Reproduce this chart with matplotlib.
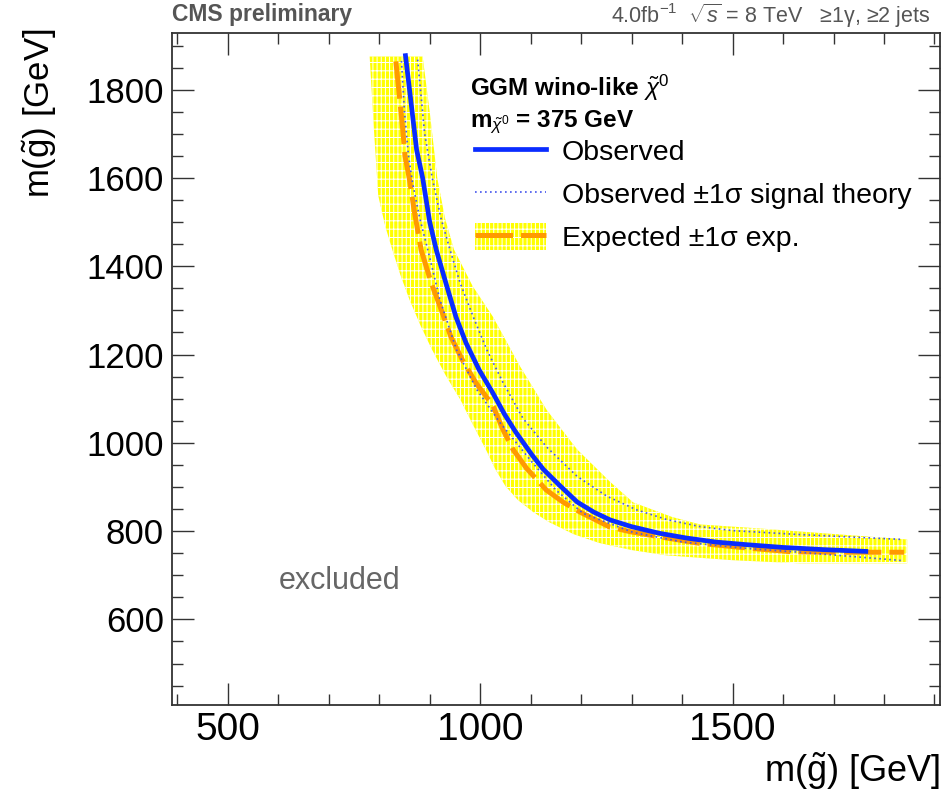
import numpy as np
import matplotlib
matplotlib.use('Agg')
import matplotlib.pyplot as plt
from matplotlib.patches import Patch
from matplotlib.lines import Line2D

plt.rcParams['font.family'] = ['Liberation Sans', 'DejaVu Sans']
plt.rcParams['mathtext.fontset'] = 'custom'
plt.rcParams['mathtext.rm'] = 'Liberation Sans'
plt.rcParams['mathtext.it'] = 'Liberation Sans:italic'
plt.rcParams['mathtext.bf'] = 'Liberation Sans:bold'
plt.rcParams['hatch.linewidth'] = 0.7

# observed limit
obs_x = [852, 860, 874, 886, 900, 913, 932, 952, 972, 998, 1025, 1048, 1070, 1103, 1125, 1156,
         1192, 1225, 1258, 1300, 1355, 1410, 1468, 1530, 1599, 1680, 1764]
obs_y = [1877, 1800, 1664, 1600, 1500, 1437, 1362, 1285, 1226, 1165, 1113, 1065, 1025, 972, 940, 905,
         866, 843, 825, 810, 795, 784, 775, 769, 763, 758, 754]

# observed +/- 1 sigma signal theory
obs_up_x = [876, 890, 905, 922, 940, 960, 986, 1013, 1045, 1085, 1132, 1192, 1251, 1310, 1370, 1436, 1501,
            1634, 1838]
obs_up_y = [1868, 1700, 1600, 1510, 1438, 1363, 1286, 1211, 1137, 1055, 990, 924, 879, 848, 826, 810, 801,
            792, 781]
obs_dn_x = [844, 850, 858, 866, 880, 896, 920, 953, 993, 1039, 1100, 1150, 1204, 1303, 1402, 1535, 1634, 1838]
obs_dn_y = [1865, 1750, 1650, 1589, 1510, 1438, 1325, 1211, 1121, 1046, 960, 893, 840, 797, 775, 760, 752, 733]

# expected limit
exp_x = [833, 836, 840, 846, 851, 860, 870, 883, 903, 923, 942, 965, 992, 1025, 1045, 1065, 1092, 1131,
         1165, 1198, 1257, 1300, 1350, 1436, 1535, 1619, 1700, 1840]
exp_y = [1864, 1830, 1785, 1717, 1650, 1596, 1521, 1437, 1362, 1301, 1240, 1187, 1135, 1085, 1030, 985,
         942, 893, 865, 843, 809, 798, 788, 772, 761, 753, 752, 752]

# expected +/- 1 sigma band edges
band_lo_x = [781, 790, 798, 812, 826, 842, 860, 882, 905, 932, 961, 986, 1012, 1030, 1050, 1075, 1105,
             1137, 1185, 1236, 1300, 1369, 1500, 1632, 1846]
band_lo_y = [1875, 1700, 1560, 1490, 1437, 1380, 1324, 1265, 1210, 1152, 1097, 1040, 983, 940, 902, 870,
             843, 820, 793, 773, 757, 745, 734, 727, 727]
band_hi_x = [886, 900, 915, 930, 948, 985, 1025, 1079, 1132, 1192, 1257, 1303, 1380, 1436, 1553, 1634, 1846]
band_hi_y = [1875, 1750, 1600, 1510, 1438, 1355, 1286, 1173, 1074, 985, 912, 865, 832, 815, 806, 799, 781]

fig = plt.figure(figsize=(9.43, 7.94), dpi=100)
ax = fig.add_axes([172.3 / 943, 1 - 705 / 794, (940 - 172.3) / 943, (705 - 32.7) / 794])

band_x = band_lo_x + band_hi_x[::-1]
band_y = band_lo_y + band_hi_y[::-1]
ax.fill(band_x, band_y, facecolor='#ffff00', edgecolor='white', hatch='||||--', linewidth=0, zorder=1)

ax.plot(exp_x, exp_y, color='#ff9a00', lw=3.6, dashes=(7.5, 1.6), zorder=2)
ax.plot(obs_x, obs_y, color='#0a2cff', lw=3.4, zorder=3)
ax.plot(obs_up_x, obs_up_y, color='#4455ee', lw=1.2, dashes=(1, 2), zorder=4)
ax.plot(obs_dn_x, obs_dn_y, color='#4455ee', lw=1.2, dashes=(1, 2), zorder=4)

ax.set_xlim(390, 1911)
ax.set_ylim(406, 1929)
ax.set_xticks([500, 1000, 1500])
ax.set_xticks(np.arange(400, 1901, 100), minor=True)
ax.set_yticks(np.arange(600, 1801, 200))
ax.set_yticks(np.arange(450, 1901, 50), minor=True)
ax.tick_params(which='both', direction='in', top=True, right=True, color='#333333', width=1.0)
ax.tick_params(which='major', length=16, pad=6)
ax.tick_params(which='minor', length=8)
ax.tick_params(axis='x', which='major', labelsize=28, pad=5)
ax.tick_params(axis='y', which='major', labelsize=25)
for s in ax.spines.values():
    s.set_color('#333333')
    s.set_linewidth(1.3)

ax.text(721, 688, 'excluded', fontsize=22, color='#666666', ha='center', va='center')

# legend
ax.text(0.388, 0.918, r'GGM wino-like $\tilde{\chi}^0$', transform=ax.transAxes,
        fontsize=17.5, fontweight='bold', ha='left', va='center')
ax.text(0.388, 0.867, r'm$_{\tilde{\chi}^0}$ = 375 GeV', transform=ax.transAxes,
        fontsize=17.5, fontweight='bold', ha='left', va='center')
h_obs = Line2D([], [], color='#0a2cff', lw=3.4)
h_th = Line2D([], [], color='#4455ee', lw=1.2, dashes=(1, 2))
h_exp = (Patch(facecolor='#ffff00', edgecolor='white', hatch='||||--', linewidth=0),
         Line2D([], [], color='#ff9a00', lw=3.6, dashes=(7.5, 1.6)))
ax.legend([h_obs, h_th, h_exp],
          ['Observed', 'Observed ±1σ signal theory', 'Expected ±1σ exp.'],
          loc='upper left', bbox_to_anchor=(0.394, 0.845), frameon=False, fontsize=20.5,
          borderpad=0, borderaxespad=0, handlelength=2.5, handleheight=1.1,
          handletextpad=0.55, labelspacing=0.48)

fig.text(40 / 943, 1 - 28 / 794, r'm($\tilde{\mathrm{g}}$) [GeV]', rotation=90,
         fontsize=25, ha='center', va='top')
fig.text(940 / 943, 1 - 792 / 794, r'm($\tilde{\mathrm{g}}$) [GeV]',
         fontsize=26, ha='right', va='bottom')

fig.text(172 / 943, 1 - 15 / 794, 'CMS preliminary', fontsize=16.5, fontweight='bold',
         color='#555555', ha='left', va='center')
fig.text(930 / 943, 1 - 16 / 794, r'4.0fb$^{-1}$  $\sqrt{s}$ = 8 TeV   ≥1γ, ≥2 jets',
         fontsize=15.5, color='#555555', ha='right', va='center')

fig.savefig('out.png', dpi=100)
